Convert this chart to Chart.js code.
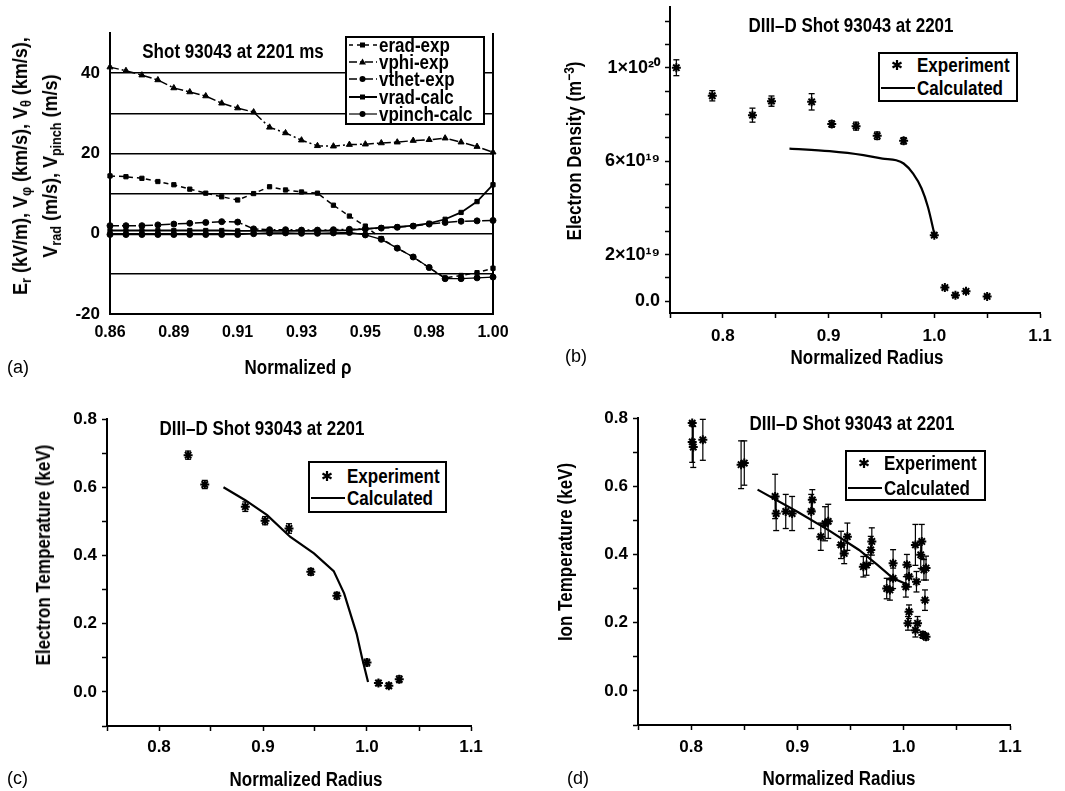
<!DOCTYPE html>
<html>
<head>
<meta charset="utf-8">
<title>DIII-D shot 93043 profiles</title>
<script src="https://cdn.jsdelivr.net/npm/chart.js"></script>
<style>
  body { margin: 0; background: #fff; }
  #fig { position: relative; width: 1065px; height: 791px; overflow: hidden; background: #fff;
         font-family: 'Liberation Sans Narrow', 'Liberation Sans', Arial, sans-serif; color: #000; }
  canvas { position: absolute; }
  .txt { position: absolute; white-space: nowrap; font-weight: bold; font-size: 20px; line-height: 1;
         transform: translate(-50%, -50%) scaleX(0.85); z-index: 2; }
  .rot { transform: translate(-50%, -50%) rotate(-90deg) scaleX(0.85); text-align: center; }
  .tag { position: absolute; font-family: 'Liberation Sans', Arial, sans-serif; font-size: 18px;
         line-height: 1; transform: translateY(-50%); z-index: 2; }
  .leg { position: absolute; border: 2px solid #000; background: #fff; z-index: 2; font-weight: bold; font-size: 20px; }
  .leg div { position: absolute; left: 0; height: 22px; white-space: nowrap; display: flex; align-items: center; line-height: 1; }
  .leg svg { flex: none; }
  .leg span { display: inline-block; transform: scaleX(0.85); transform-origin: left center; }
  #legA div { height: 18px; }
  sub { font-size: 70%; vertical-align: -0.3em; line-height: 0; }
  sup { font-size: 70%; vertical-align: 0.5em; line-height: 0; }
</style>
</head>
<body>
<div id="fig">
  <canvas id="chartA" width="520" height="395" style="left:0;top:0"></canvas>
  <canvas id="chartB" width="535" height="395" style="left:530px;top:0"></canvas>
  <canvas id="chartC" width="520" height="396" style="left:0;top:395px"></canvas>
  <canvas id="chartD" width="535" height="396" style="left:530px;top:395px"></canvas>

  <!-- (a) -->
  <div class="txt rot" style="left:35px;top:166px;line-height:30px;transform:translate(-50%,-50%) rotate(-90deg) scaleX(0.9)">
    E<sub>r</sub> (kV/m), V<sub>&phi;</sub> (km/s), V<sub>&theta;</sub> (km/s),<br>V<sub>rad</sub> (m/s), V<sub>pinch</sub> (m/s)
  </div>
  <div class="txt" style="left:233px;top:51px">Shot 93043 at 2201 ms</div>
  <div class="txt" style="left:298px;top:367px">Normalized &rho;</div>
  <div class="tag" style="left:7px;top:367px">(a)</div>
  <div class="leg" id="legA" style="left:345px;top:36px;width:136px;height:85px">
    <div style="top:-2px"><svg width="32" height="18"><line x1="2" y1="9" x2="30" y2="9" stroke="#000" stroke-width="1.5" stroke-dasharray="4,4"/><rect x="13" y="6.5" width="5" height="5"/></svg><span>erad-exp</span></div>
    <div style="top:15px"><svg width="32" height="18"><line x1="2" y1="9" x2="30" y2="9" stroke="#000" stroke-width="1.5" stroke-dasharray="8,3,2,3"/><polygon points="15.5,5.5 19,11.5 12,11.5"/></svg><span>vphi-exp</span></div>
    <div style="top:32px"><svg width="32" height="18"><line x1="2" y1="9" x2="30" y2="9" stroke="#000" stroke-width="1.5" stroke-dasharray="8,3,2,3"/><circle cx="15.5" cy="9" r="3"/></svg><span>vthet-exp</span></div>
    <div style="top:50px"><svg width="32" height="18"><line x1="2" y1="9" x2="30" y2="9" stroke="#000" stroke-width="2"/><rect x="13" y="6.5" width="5" height="5"/></svg><span>vrad-calc</span></div>
    <div style="top:67px"><svg width="32" height="18"><line x1="2" y1="9" x2="30" y2="9" stroke="#000" stroke-width="1.2"/><circle cx="15.5" cy="9" r="3"/></svg><span>vpinch-calc</span></div>
  </div>

  <!-- (b) -->
  <div class="txt rot" style="left:574px;top:151px">Electron Density (m<sup>&minus;3</sup>)</div>
  <div class="txt" style="left:851px;top:25px">DIII&ndash;D Shot 93043 at 2201</div>
  <div class="txt" style="left:867px;top:357px">Normalized Radius</div>
  <div class="tag" style="left:565px;top:356px">(b)</div>
  <div class="leg" style="left:878px;top:52px;width:136px;height:46px">
    <div style="top:0"><svg width="37" height="22"><path d="M17 6v10M12.5 8.5l9 5M12.5 13.5l9-5" stroke="#000" stroke-width="2.2"/></svg><span>Experiment</span></div>
    <div style="top:23px"><svg width="37" height="22"><line x1="1" y1="11" x2="35" y2="11" stroke="#000" stroke-width="2"/></svg><span>Calculated</span></div>
  </div>

  <!-- (c) -->
  <div class="txt rot" style="left:43px;top:555px">Electron Temperature (keV)</div>
  <div class="txt" style="left:262px;top:428px">DIII&ndash;D Shot 93043 at 2201</div>
  <div class="txt" style="left:306px;top:779px">Normalized Radius</div>
  <div class="tag" style="left:7px;top:778px">(c)</div>
  <div class="leg" style="left:308px;top:461px;width:135px;height:48px">
    <div style="top:2px"><svg width="37" height="22"><path d="M17 6v10M12.5 8.5l9 5M12.5 13.5l9-5" stroke="#000" stroke-width="2.2"/></svg><span>Experiment</span></div>
    <div style="top:24px"><svg width="37" height="22"><line x1="1" y1="11" x2="35" y2="11" stroke="#000" stroke-width="2"/></svg><span>Calculated</span></div>
  </div>

  <!-- (d) -->
  <div class="txt rot" style="left:565px;top:552px">Ion Temperature (keV)</div>
  <div class="txt" style="left:852px;top:423px">DIII&ndash;D Shot 93043 at 2201</div>
  <div class="txt" style="left:839px;top:778px">Normalized Radius</div>
  <div class="tag" style="left:567px;top:778px">(d)</div>
  <div class="leg" style="left:845px;top:450px;width:137px;height:47px">
    <div style="top:0"><svg width="37" height="22"><path d="M17 6v10M12.5 8.5l9 5M12.5 13.5l9-5" stroke="#000" stroke-width="2.2"/></svg><span>Experiment</span></div>
    <div style="top:25px"><svg width="37" height="22"><line x1="1" y1="11" x2="35" y2="11" stroke="#000" stroke-width="2"/></svg><span>Calculated</span></div>
  </div>
</div>

<script>
// ---- (a) radial electric field and velocities vs normalized rho ----
var rhoTicks = ["0.86", "", "", "", "0.89", "", "", "", "0.91", "", "", "", "0.93", "", "", "", "0.95", "", "", "", "0.98", "", "", "", "1.00"];
var eradExp = [14.4, 14.2, 13.8, 13.0, 12.2, 11.1, 10.1, 9.2, 8.4, 10.0, 11.7, 10.9, 10.4, 10.1, 7.1, 4.4, 1.9, -1.2, -3.6, -5.8, -8.5, -11.0, -10.4, -9.7, -8.6];
var vphiExp = [41.5, 40.6, 39.5, 38.3, 36.3, 35.3, 34.3, 32.5, 31.3, 30.3, 26.5, 25.1, 23.3, 21.9, 21.8, 22.2, 22.3, 22.6, 22.8, 23.2, 23.4, 23.8, 22.8, 21.7, 20.3];
var vthetExp = [2.0, 2.0, 2.0, 2.2, 2.4, 2.6, 2.8, 3.0, 2.9, 1.2, 1.0, 1.0, 0.9, 0.9, 1.0, 1.1, 1.2, 1.4, 1.6, 1.9, 2.4, 2.8, 3.1, 3.2, 3.3];
var vradCalc = [0.8, 0.8, 0.8, 0.8, 0.8, 0.8, 0.8, 0.8, 0.7, 0.7, 0.7, 0.7, 0.7, 0.7, 0.8, 0.9, 1.2, 1.5, 1.7, 2.0, 2.6, 3.6, 5.3, 8.0, 12.2];
var vpinchCalc = [-0.2, -0.2, -0.2, -0.2, -0.2, -0.2, -0.2, -0.2, -0.2, 0.0, 0.2, 0.2, 0.1, 0.1, 0.2, 0.3, -0.3, -1.4, -3.6, -5.8, -8.4, -11.2, -11.2, -11.0, -10.8];

// ---- (b) electron density, units of 1e19 m^-3 ----
var neX = [0.756, 0.790, 0.828, 0.846, 0.884, 0.903, 0.926, 0.946, 0.971, 1.000, 1.010, 1.020, 1.030, 1.050];
var neY = [10.0, 8.8, 7.97, 8.57, 8.54, 7.59, 7.5, 7.09, 6.87, 2.83, 0.59, 0.26, 0.43, 0.21];
var neErr = [0.34, 0.22, 0.3, 0.22, 0.35, 0.14, 0.17, 0.16, 0.14, 0.08, 0.06, 0.06, 0.06, 0.05];
var neCalcX = [0.863, 0.901, 0.933, 0.951, 0.964, 0.971, 0.980, 0.988, 0.994, 1.000];
var neCalcY = [6.54, 6.43, 6.26, 6.11, 6.04, 5.9, 5.47, 4.83, 4.04, 2.9];
var neTickVals = [0, 2, 6, 10];
var neTickText = ["0.0", "2×10¹⁹", "6×10¹⁹", "1×10²⁰"];

// ---- (c) electron temperature, keV ----
var teX = [0.828, 0.844, 0.883, 0.902, 0.925, 0.946, 0.971, 1.000, 1.011, 1.021, 1.031];
var teY = [0.694, 0.608, 0.543, 0.502, 0.479, 0.352, 0.282, 0.086, 0.026, 0.018, 0.037];
var teErr = [0.012, 0.012, 0.014, 0.012, 0.014, 0.01, 0.01, 0.01, 0.008, 0.008, 0.01];
var teCalcX = [0.862, 0.883, 0.904, 0.926, 0.949, 0.968, 0.978, 0.990, 0.995, 1.001];
var teCalcY = [0.600, 0.562, 0.518, 0.455, 0.406, 0.354, 0.289, 0.171, 0.103, 0.029];

// ---- (d) ion temperature, keV ----
var tiX = [0.801, 0.801, 0.802, 0.811, 0.847, 0.850, 0.879, 0.880, 0.889, 0.895,
           0.913, 0.914, 0.922, 0.926, 0.929, 0.941, 0.944, 0.947, 0.962, 0.965,
           0.969, 0.970, 0.984, 0.987, 0.990, 0.990, 1.002, 1.003, 1.005, 1.005,
           1.004, 1.011, 1.012, 1.013, 1.011, 1.016, 1.017, 1.019, 1.021, 1.020,
           1.018, 1.021];
var tiY = [0.785, 0.730, 0.715, 0.736, 0.663, 0.668, 0.570, 0.520, 0.526, 0.520,
           0.526, 0.560, 0.452, 0.490, 0.497, 0.428, 0.403, 0.452, 0.364, 0.369,
           0.413, 0.438, 0.300, 0.296, 0.374, 0.330, 0.305, 0.370, 0.335, 0.232,
           0.198, 0.428, 0.320, 0.198, 0.178, 0.399, 0.438, 0.355, 0.360, 0.266,
           0.164, 0.159];
var tiErr = [0.0, 0.06, 0.06, 0.06, 0.07, 0.065, 0.065, 0.05, 0.05, 0.05,
             0.05, 0.03, 0.04, 0.05, 0.05, 0.04, 0.03, 0.04, 0.03, 0.03,
             0.04, 0.04, 0.03, 0.03, 0.04, 0.03, 0.03, 0.03, 0.03, 0.02,
             0.02, 0.06, 0.03, 0.02, 0.02, 0.04, 0.05, 0.03, 0.035, 0.03,
             0.01, 0.01];
var tiCalcX = [0.8625, 0.900, 0.930, 0.958, 0.975, 0.990, 1.005];
var tiCalcY = [0.590, 0.525, 0.470, 0.413, 0.370, 0.330, 0.310];

var FONT = "'Liberation Sans Narrow', 'Liberation Sans', Arial, sans-serif";
Chart.defaults.font.family = FONT;
Chart.defaults.font.weight = 'bold';
Chart.defaults.font.size = 17;
Chart.defaults.color = '#000';
Chart.defaults.animation = false;
Chart.defaults.plugins.legend.display = false;
Chart.defaults.plugins.tooltip.enabled = false;

function pts(xs, ys) {
  return xs.map(function (x, i) { return {x: x, y: ys[i]}; });
}

// vertical error bars: low, high, gap
function errBars(xs, ys, es) {
  var out = [];
  xs.forEach(function (x, i) {
    out.push({x: x, y: ys[i] - es[i]}, {x: x, y: ys[i] + es[i]}, {x: x, y: null});
  });
  return out;
}

function fixW(w) {
  return function (s) { s.width = w; s.paddingTop = 0; s.paddingBottom = 0; };
}
function fixH(h) {
  return function (s) { s.height = h; s.paddingLeft = 0; s.paddingRight = 0; };
}

function tenth(v) {
  var r = Math.round(v * 10);
  return Math.abs(v * 10 - r) < 1e-6 ? (r / 10).toFixed(1) : '';
}
function fifth(v) {
  var r = Math.round(v * 5);
  return Math.abs(v * 5 - r) < 1e-6 && v > -0.05 ? (r / 5).toFixed(1) : '';
}

var axisGrid = {drawOnChartArea: false, drawTicks: true, tickLength: 5, tickColor: '#000', tickWidth: 1.5};
var axisBorder = {display: true, color: '#000', width: 2};

// ---------- (a) ----------
var lineBase = {borderColor: '#000', backgroundColor: '#000', pointBorderColor: '#000',
                pointBackgroundColor: '#000', pointBorderWidth: 1, fill: false, tension: 0};
new Chart('chartA', {
  type: 'line',
  data: {
    labels: rhoTicks,
    datasets: [
      Object.assign({label: 'erad-exp', data: eradExp, borderWidth: 1.5, borderDash: [5, 4], pointStyle: 'rect', pointRadius: 3}, lineBase),
      Object.assign({label: 'vphi-exp', data: vphiExp, borderWidth: 1.5, borderDash: [9, 3, 2, 3], pointStyle: 'triangle', pointRadius: 3.5}, lineBase),
      Object.assign({label: 'vthet-exp', data: vthetExp, borderWidth: 1.5, borderDash: [9, 3, 2, 3], pointStyle: 'circle', pointRadius: 3}, lineBase),
      Object.assign({label: 'vrad-calc', data: vradCalc, borderWidth: 1.8, pointStyle: 'rect', pointRadius: 3}, lineBase),
      Object.assign({label: 'vpinch-calc', data: vpinchCalc, borderWidth: 1.3, pointStyle: 'circle', pointRadius: 3}, lineBase)
    ]
  },
  options: {
    responsive: false,
    layout: {padding: {top: 33, right: 27, left: 0, bottom: 41}},
    scales: {
      x: {
        type: 'category', offset: false,
        afterFit: fixH(40),
        grid: {drawTicks: false, lineWidth: 2,
               color: function (c) { return c.index === rhoTicks.length - 1 ? '#000' : 'rgba(0,0,0,0)'; }},
        border: axisBorder,
        ticks: {autoSkip: false, maxRotation: 0, padding: 9, font: {size: 16}}
      },
      y: {
        min: -20, max: 50,
        afterFit: fixW(110),
        grid: {drawTicks: false, lineWidth: 1.5,
               color: function (c) { return c.tick && c.tick.value >= 50 ? 'rgba(0,0,0,0)' : '#000'; }},
        border: axisBorder,
        ticks: {stepSize: 10, padding: 10, font: {size: 17},
                callback: function (v) { return (v % 20 === 0 && v < 50) ? String(v) : ''; }}
      }
    }
  }
});

// ---------- profile panels (b), (c), (d) ----------
function profileChart(id, exp, bars, calc, calcTension, yOpts, pad) {
  return new Chart(id, {
    type: 'line',
    data: {
      datasets: [
        {label: 'Experiment', data: exp, showLine: false, pointStyle: 'star', pointRadius: 4.5,
         pointBorderWidth: 2, pointBorderColor: '#000', pointBackgroundColor: '#000'},
        {label: 'bars', data: bars, showLine: true, borderColor: '#000', borderWidth: 1.2,
         pointStyle: 'line', pointRadius: 3, pointBorderWidth: 1.3, pointBorderColor: '#000', spanGaps: false},
        {label: 'Calculated', data: calc, showLine: true, borderColor: '#000', borderWidth: 2.2,
         pointRadius: 0, tension: calcTension, cubicInterpolationMode: calcTension ? 'monotone' : 'default'}
      ]
    },
    options: {
      responsive: false,
      layout: {padding: pad.layout},
      scales: {
        x: {
          type: 'linear', min: 0.75, max: 1.1,
          afterFit: fixH(40),
          grid: axisGrid, border: axisBorder,
          ticks: {stepSize: 0.05, includeBounds: false, maxRotation: 0, autoSkip: false, padding: pad.xpad,
                  callback: tenth}
        },
        y: Object.assign({
          type: 'linear',
          afterFit: fixW(pad.yw),
          grid: axisGrid, border: axisBorder
        }, yOpts)
      }
    }
  });
}

profileChart('chartB', pts(neX, neY), errBars(neX, neY, neErr), pts(neCalcX, neCalcY), 0.4, {
  min: -0.5, max: 12.6,
  ticks: {stepSize: 1, includeBounds: false, padding: 5, autoSkip: false, font: {size: 18},
          callback: function (v) {
            var k = neTickVals.findIndex(function (t) { return Math.abs(t - v) < 1e-6; });
            return k >= 0 ? neTickText[k] : '';
          }}
}, {layout: {top: 7, right: 25, left: 0, bottom: 42}, yw: 140, xpad: 8});

profileChart('chartC', pts(teX, teY), errBars(teX, teY, teErr), pts(teCalcX, teCalcY), 0, {
  min: -0.1, max: 0.8,
  ticks: {stepSize: 0.1, includeBounds: false, padding: 5, autoSkip: false, callback: fifth}
}, {layout: {top: 24, right: 49, left: 0, bottom: 25}, yw: 107, xpad: 6});

profileChart('chartD', pts(tiX, tiY), errBars(tiX, tiY, tiErr), pts(tiCalcX, tiCalcY), 0, {
  min: -0.1, max: 0.8,
  ticks: {stepSize: 0.1, includeBounds: false, padding: 5, autoSkip: false, callback: fifth}
}, {layout: {top: 23, right: 55, left: 0, bottom: 26}, yw: 108, xpad: 7});
</script>
</body>
</html>
